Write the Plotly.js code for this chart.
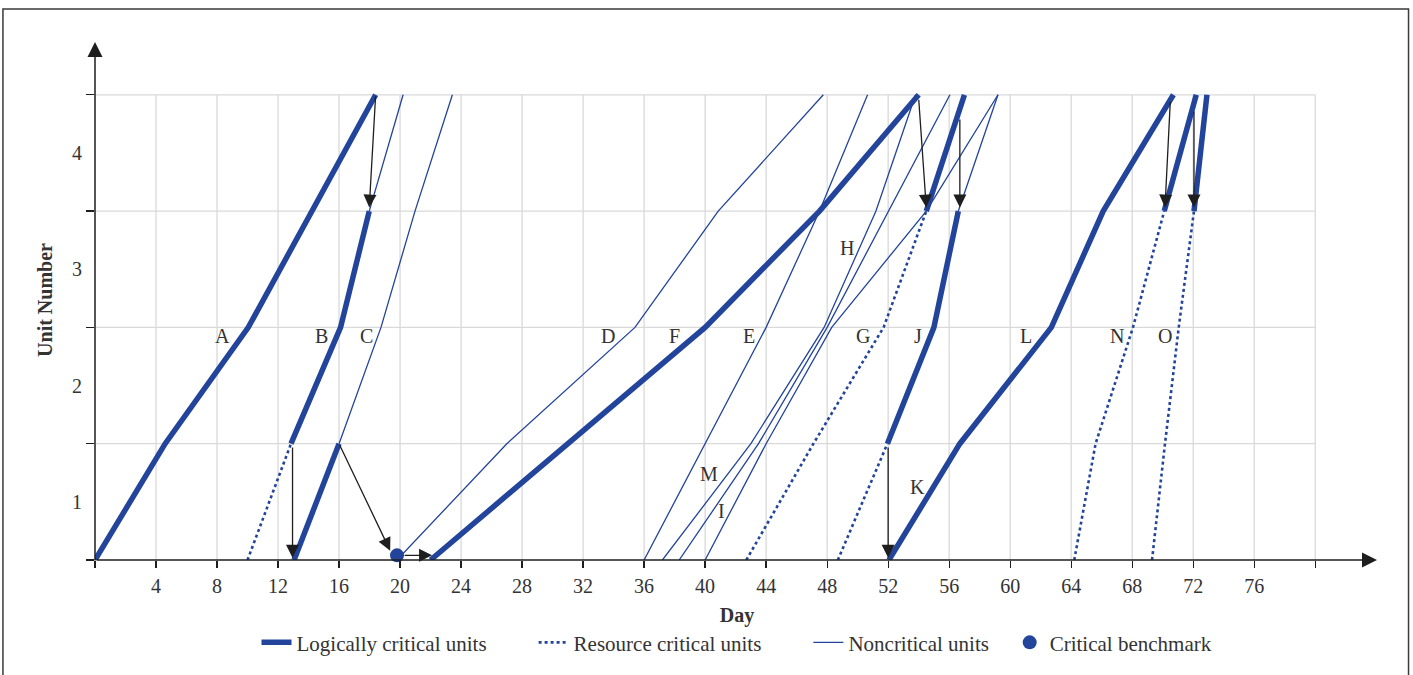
<!DOCTYPE html>
<html>
<head>
<meta charset="utf-8">
<script src="https://cdn.plot.ly/plotly-3.0.1.min.js"></script>
<style>html,body{margin:0;padding:0;background:#fff;}#chart{width:1413px;height:675px;}</style>
</head>
<body>
<div id="chart"></div>
<script>
// ---------- data ----------
const xTickVals = [0,4,8,12,16,20,24,28,32,36,40,44,48,52,56,60,64,68,72,76,80];
const xTickText = ['','4','8','12','16','20','24','28','32','36','40','44','48','52','56','60','64','68','72','76',''];
const unitBounds = [0.5,1.5,2.5,3.5,4.5];
const unitTicks = [1,2,3,4];

// day at each unit boundary (0.5,1.5,2.5,3.5,4.5); segment styles: L logical, R resource, N noncritical
const actA = [0, 4.6, 10.05, 14.2, 18.4];      const segA = ['L','L','L','L'];
const actB = [10.0, 12.85, 16.1, 17.98, 20.2];  const segB = ['R','L','L','N'];
const actC = [13.05, 16.0, 18.75, 20.98, 23.43]; const segC = ['L','N','N','N'];
const actD = [19.8, 27.0, 35.4, 40.86, 47.75];  const segD = ['N','N','N','N'];
const actE = [36.0, 40.0, 44.0, 47.5, 50.65];   const segE = ['N','N','N','N'];
const actF = [22.0, 31.0, 40.0, 47.5, 54.0];    const segF = ['L','L','L','L'];
const actG = [42.7, 47.1, 51.7, 54.5, 57.0];    const segG = ['R','R','R','L'];
const actH = [40.0, 44.0, 48.3, 54.5, 59.2];    const segH = ['N','N','N','N'];
const actI = [38.3, 43.5, 48.0, 52.0, 56.05];   const segI = ['N','N','N','N'];
const actM = [37.2, 43.0, 47.8, 51.2, 53.8];    const segM = ['N','N','N','N'];
const actJ = [48.7, 51.95, 55.0, 56.6, 59.2];   const segJ = ['R','L','L','N'];
const actK = [52.05, 56.7, 62.7, 66.1, 70.7];   const segK = ['L','L','L','L'];
const actN = [64.2, 65.6, 68.05, 70.1, 72.2];   const segN = ['R','R','R','L'];
const actO = [69.3, 70.15, 71.05, 72.05, 72.9]; const segO = ['R','R','R','L'];

const benchDay = [19.8];
const benchUnit = [0.54];

// precedence arrows: tail (from) -> head (to)
const arrFromDay  = [18.4, 12.95, 16.0, 20.2, 54.0, 56.7, 52.0, 70.5, 72.05];
const arrFromUnit = [4.5, 1.48, 1.5, 0.54, 4.47, 4.3, 1.48, 4.45, 4.37];
const arrToDay    = [17.98, 12.95, 19.35, 22.1, 54.5, 56.7, 52.0, 70.15, 72.05];
const arrToUnit   = [3.53, 0.52, 0.58, 0.54, 3.53, 3.53, 0.52, 3.53, 3.53];

// activity labels
const labText = ['A','B','C','D','F','E','G','J','L','N','O','H','M','I','K'];
const labDay  = [8.39,14.82,17.83,33.63,38.02,42.87,50.35,53.95,61.03,67.0,70.15,49.3,40.25,41.1,53.9];
const labUnit = [2.43,2.43,2.43,2.43,2.43,2.43,2.43,2.43,2.43,2.43,2.43,3.18,1.24,0.92,1.13];

// legend names (non-breaking spaces widen the gaps between legend entries)
const legNames = ['Logically critical units', 'Resource critical units', 'Noncritical units', 'Critical benchmark'];
const legPad = [8, 8, 3, 0];

// ---------- build ----------
const BLUE = '#23449b';
const FONT = 'Liberation Serif, Times New Roman, serif';
const TXT = '#333333';
const acts = [[actA,segA],[actB,segB],[actC,segC],[actD,segD],[actE,segE],[actF,segF],[actG,segG],
              [actH,segH],[actI,segI],[actM,segM],[actJ,segJ],[actK,segK],[actN,segN],[actO,segO]];
const series = {L:{x:[],y:[]}, R:{x:[],y:[]}, N:{x:[],y:[]}};
acts.forEach(([days, segs]) => {
  let prev = null;
  segs.forEach((s, i) => {
    const t = series[s];
    if (prev !== s || t.x.length === 0) {
      if (t.x.length && t.x[t.x.length-1] !== null) { t.x.push(null); t.y.push(null); }
      t.x.push(days[i]); t.y.push(unitBounds[i]);
    }
    t.x.push(days[i+1]); t.y.push(unitBounds[i+1]);
    prev = s;
  });
  ['L','R','N'].forEach(k => { const t = series[k]; if (t.x.length && t.x[t.x.length-1] !== null) { t.x.push(null); t.y.push(null); } });
});
const nm = i => legNames[i] + '\u00a0'.repeat(legPad[i]);

const traces = [
  {x: series.L.x, y: series.L.y, mode:'lines', name:nm(0), line:{color:BLUE, width:5.5}, connectgaps:false, hoverinfo:'skip'},
  {x: series.R.x, y: series.R.y, mode:'lines', name:nm(1), line:{color:BLUE, width:2.6, dash:'dot'}, connectgaps:false, hoverinfo:'skip'},
  {x: series.N.x, y: series.N.y, mode:'lines', name:nm(2), line:{color:BLUE, width:1.3}, connectgaps:false, hoverinfo:'skip'},
  {x: benchDay, y: benchUnit, mode:'markers', name:nm(3), marker:{color:BLUE, size:14}, cliponaxis:false, hoverinfo:'skip'}
];

const XMAX = 84.18, YMIN = 0.5, YMAX = 4.971;
const shapes = [];
xTickVals.forEach(v => { if (v > 0) shapes.push({type:'line', xref:'x', yref:'y', x0:v, x1:v, y0:unitBounds[0], y1:unitBounds[unitBounds.length-1], line:{color:'#d9d9d9', width:1.3}, layer:'below'}); });
unitBounds.forEach(v => { if (v > unitBounds[0]) shapes.push({type:'line', xref:'x', yref:'y', x0:0, x1:xTickVals[xTickVals.length-1], y0:v, y1:v, line:{color:'#d9d9d9', width:1.3}, layer:'below'}); });
shapes.push({type:'rect', xref:'paper', yref:'paper', x0:-0.0717, x1:1.0230, y0:-0.3, y1:1.0594, line:{color:'#3a3a3a', width:1.5}, fillcolor:'rgba(0,0,0,0)', layer:'below'});

const annotations = [];
for (let i = 0; i < arrFromDay.length; i++) {
  annotations.push({x:arrToDay[i], y:arrToUnit[i], ax:arrFromDay[i], ay:arrFromUnit[i], xref:'x', yref:'y', axref:'x', ayref:'y',
    text:'', showarrow:true, arrowhead:2, arrowsize:2.0, arrowwidth:1.3, arrowcolor:'#1e1e1e', standoff:0, startstandoff:0});
}
annotations.push({x:(1377-95)/1284, y:0, xref:'paper', yref:'paper', ax:-1282, ay:0, axref:'pixel', ayref:'pixel', text:'', showarrow:true, arrowhead:2, arrowsize:2.0, arrowwidth:1.5, arrowcolor:'#1e1e1e', standoff:0});
annotations.push({x:0, y:(562-42)/522, xref:'paper', yref:'paper', ax:0, ay:520, axref:'pixel', ayref:'pixel', text:'', showarrow:true, arrowhead:2, arrowsize:2.0, arrowwidth:1.5, arrowcolor:'#1e1e1e', standoff:0});
for (let i = 0; i < labText.length; i++) {
  annotations.push({x:labDay[i], y:labUnit[i], xref:'x', yref:'y', text:labText[i], showarrow:false, font:{family:FONT, size:20, color:TXT}});
}

const layout = {
  width:1413, height:675,
  margin:{l:95, r:34, t:40, b:113},
  paper_bgcolor:'#ffffff', plot_bgcolor:'#ffffff',
  showlegend:true,
  legend:{orientation:'h', x:0.5, xanchor:'center', y:-0.159, yanchor:'middle', font:{family:FONT, size:21, color:TXT}, bgcolor:'rgba(0,0,0,0)'},
  xaxis:{range:[0, XMAX], tickmode:'array', tickvals:xTickVals, ticktext:xTickText, ticks:'outside', ticklen:7, tickwidth:1.3, tickcolor:'#1e1e1e',
         showgrid:false, zeroline:false, showline:false, ticklabelstandoff:1,
         tickfont:{family:FONT, size:20, color:TXT},
         title:{text:'<b>Day</b>', font:{family:FONT, size:20, color:TXT}, standoff:11}},
  yaxis:{range:[YMIN, YMAX], tickmode:'array', tickvals:unitTicks, ticktext:unitTicks.map(String), ticks:'',
         minor:{tickmode:'array', tickvals:unitBounds, ticks:'outside', ticklen:8, tickwidth:1.3, tickcolor:'#1e1e1e', showgrid:false},
         showgrid:false, zeroline:false, showline:false, ticklabelstandoff:12,
         tickfont:{family:FONT, size:20, color:TXT},
         title:{text:'<b>Unit Number</b>', font:{family:FONT, size:20, color:TXT}, standoff:14}},
  shapes: shapes,
  annotations: annotations
};

Plotly.newPlot('chart', traces, layout, {displayModeBar:false, staticPlot:true});
</script>
</body>
</html>
